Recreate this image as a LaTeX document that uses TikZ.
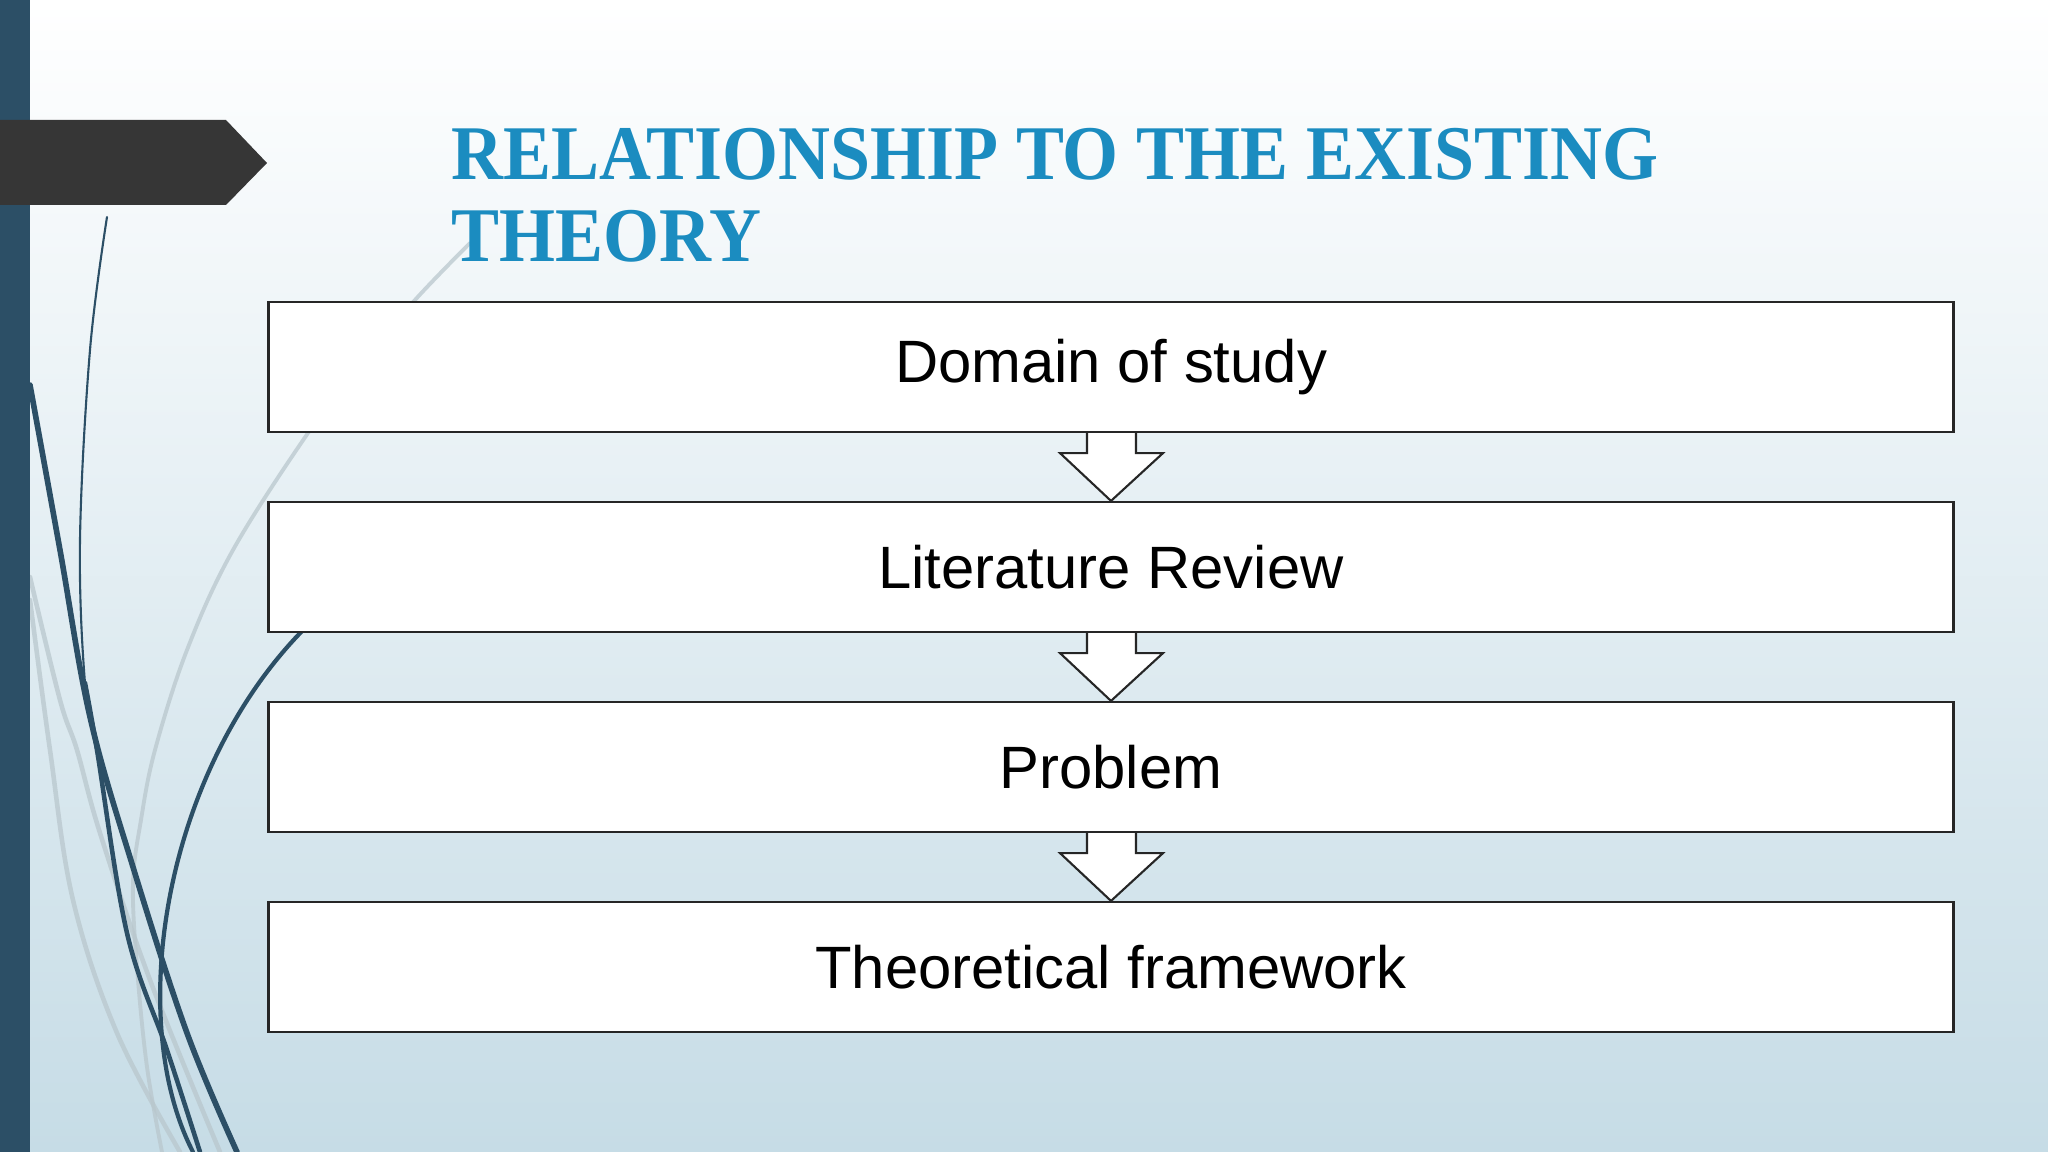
\documentclass[tikz,border=0pt]{standalone}
\usepackage{fontspec}
\setmainfont{Liberation Sans}
\newfontfamily\titlefont[FakeStretch=0.93]{Liberation Serif}
\usetikzlibrary{calc}
\definecolor{bgbot}{HTML}{C6DCE6}
\definecolor{barblue}{HTML}{2C4F66}
\definecolor{tagdark}{HTML}{363636}
\definecolor{titleblue}{HTML}{1B8CC0}
\definecolor{lightarc}{HTML}{B9C7CD}
\definecolor{boxline}{HTML}{262626}
\tikzset{
  stepbox/.style={draw=boxline, line width=0.6pt, fill=white, minimum width=16.84cm, minimum height=1.30cm, inner sep=0pt, font=\fontsize{17}{20}\selectfont},
  downarrow/.style={draw=boxline, line width=0.6pt, fill=white, line join=miter},
  darkcurve/.style={draw=barblue, line cap=round},
  greycurve/.style={draw=lightarc, line cap=round, opacity=0.75},
  titletext/.style={anchor=base west, inner sep=0pt, text=titleblue, font=\titlefont\bfseries\fontsize{22}{26}\selectfont}
}
\begin{document}
\begin{tikzpicture}[x=0.01cm, y=-0.01cm]
\useasboundingbox (0,0) rectangle (2048,1152);
% background
\shade[top color=white, bottom color=bgbot] (0,0) rectangle (2048,1152);
% light decorative curves
\draw[greycurve, line width=1.1pt] plot[smooth, tension=0.6] coordinates {(470,243) (415,300) (360,365) (308,433) (233,550) (187,650) (155,750) (141,820) (133,883) (137,967) (147,1067) (162,1152)};
\draw[greycurve, line width=1.3pt] plot[smooth, tension=0.6] coordinates {(30,600) (50,750) (73,900) (117,1033) (180,1152)};
\draw[greycurve, line width=1.3pt] plot[smooth, tension=0.6] coordinates {(30,577) (60,700) (77,750) (100,833) (150,980) (220,1152)};
% dark decorative curves
\draw[darkcurve, line width=0.6pt] plot[smooth, tension=0.6] coordinates {(107,217) (90,350) (80,540) (85,683) (97,750)};
\draw[darkcurve, line width=1.3pt] plot[smooth, tension=0.6] coordinates {(85,683) (97,750) (127,933) (167,1050) (200,1152)};
\draw[darkcurve, line width=1.6pt] plot[smooth, tension=0.6] coordinates {(30,385) (60,550) (90,717) (133,867) (187,1033) (237,1152)};
\draw[darkcurve, line width=1.2pt] (330,605) .. controls (170,740) and (120,1010) .. (193,1152);
% left bar and tag
\fill[barblue] (0,0) rectangle (30,1152);
\fill[tagdark] (0,120) -- (226,120) -- (267,163) -- (226,205) -- (0,205) -- cycle;
% title
\node[titletext] (title1) at (451,180) {RELATIONSHIP TO THE EXISTING};
\node[titletext] (title2) at (451,262) {THEORY};
% boxes
\node[stepbox] (b1) at (1111,367) {Domain of study};
\node[stepbox] (b2) at (1111,567) {Literature Review};
\node[stepbox] (b3) at (1111,767) {Problem};
\node[stepbox] (b4) at (1111,967) {Theoretical framework};
% block arrows
\foreach \a/\b in {b1/b2, b2/b3, b3/b4}{
  \path[downarrow] ($(\a.south)+(-24,0)$) -- ($(\a.south)+(-24,20)$) -- ($(\a.south)+(-51,20)$) -- (\b.north) -- ($(\a.south)+(52,20)$) -- ($(\a.south)+(25,20)$) -- ($(\a.south)+(25,0)$);
}
\end{tikzpicture}
\end{document}
